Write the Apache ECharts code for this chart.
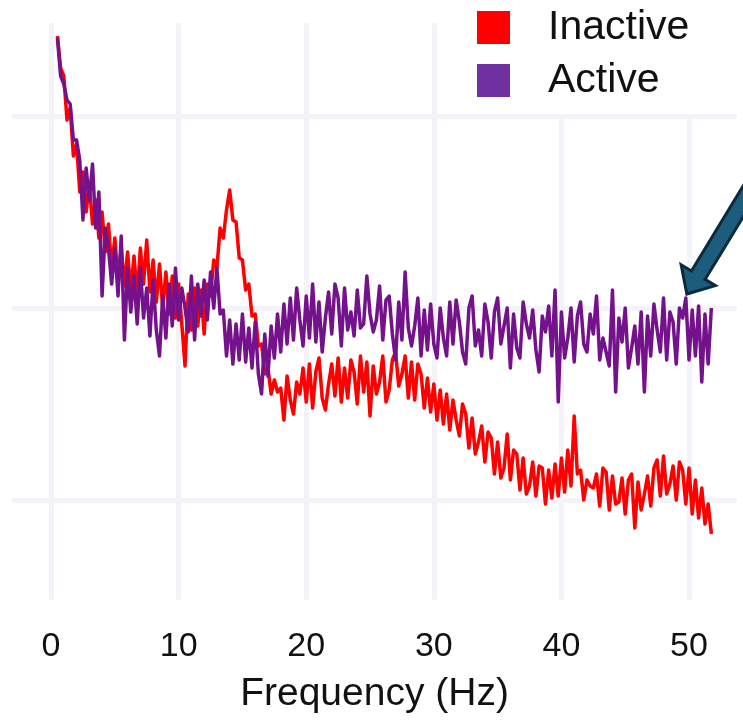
<!DOCTYPE html>
<html><head><meta charset="utf-8">
<script src="https://cdn.jsdelivr.net/npm/echarts@6/dist/echarts.min.js"></script>
<style>html,body{margin:0;padding:0;background:#fff}#c{width:743px;height:726px}</style>
</head><body><div id="c"></div>
<script>
// Sampling grid of the spectrum (Hz)
const freqStart = 0.5;
const freqStep = 0.25;

// Power (arbitrary units)
const inactive = [
282,266,262,240, 246,222,228,204, 214,194,208,188, 200,181,194,174,
188,166,181,160, 176,157,174,154, 172,152,176,158, 180,154,170,149,
168,146,164,143, 162,141,158,138, 117,153,135,156, 137,155,133,158,
152,170,166,186, 181,195,205,190, 189,171,170,155, 158,142,143,127,
128,113,116,103, 110,104,106,90, 112,100,93,109, 103,116,99,118,
96,114,121,101, 95,108,118,102, 121,99,116,101, 120,114,98,122,
104,119,92,117, 103,109,122,99, 105,120,124,107, 113,122,101,119,
100,118,113,96, 111,94,108,90, 105,88,103,85, 100,90,82,98,
93,76,91,73, 79,87,69,84, 81,63,79,61, 66,83,60,75,
73,55,71,53, 57,69,52,67, 66,48,65,51, 68,52,71,54,
75,57,92,63, 65,50,60,57, 56,63,47,66, 64,45,62,48,
49,61,43,60, 63,36,59,45, 53,62,47,66, 70,52,72,53,
58,67,50,69, 65,48,66,43, 60,41,56,38, 48,33
];
const active = [
281,262,258,250, 248,230,230,220, 190,216,200,218, 186,204,152,186,
176,158,176,152, 182,130,166,144, 162,138,166,141, 156,132,160,135,
122,152,131,158, 137,166,140,156, 146,134,162,130, 158,142,160,140,
164,146,166,143, 145,122,140,118, 138,120,143,119, 136,116,139,113,
103,133,112,137, 121,143,124,148, 128,151,130,156, 140,127,152,131,
158,129,149,124, 141,154,133,158, 151,127,156,135, 144,132,155,136,
138,162,143,134, 140,157,130,150, 152,133,120,149, 130,164,136,127,
137,151,122,145, 125,148,128,121, 146,131,122,149, 128,150,139,124,
118,146,152,127, 135,122,148,139, 121,144,151,128, 137,146,116,143,
126,121,149,138, 131,145,125,114, 142,134,147,122, 155,99,144,121,
131,146,119,142, 149,128,124,143, 133,152,120,131, 124,117,155,104,
141,129,146,116, 126,137,118,144, 104,142,122,148, 135,124,151,120,
144,139,118,146, 141,151,120,145, 122,147,109,143, 118,146
];
const xTicks = [0, 10, 20, 30, 40, 50];
const yGridValues = [50, 146, 242];
const seriesNames = ['Inactive', 'Active'];
const annotatedPoint = [49.75, 151];

const freqs = inactive.map((_, i) => freqStart + i * freqStep);
const FONT = '"Liberation Sans", Arial, sans-serif';
const gridLine = { show: true, lineStyle: { color: '#f3f3f9', width: 5 } };

const chart = echarts.init(document.getElementById('c'), null, { renderer: 'canvas' });
chart.setOption({
  animation: false,
  backgroundColor: '#ffffff',
  grid: { left: 12, right: 6, top: 23, bottom: 126 },
  xAxis: {
    type: 'value', min: -3.06, max: 53.76,
    axisLine: { show: false },
    axisTick: { show: false, customValues: xTicks },
    axisLabel: { customValues: xTicks, fontSize: 34, color: '#111', margin: 30, fontFamily: FONT },
    splitLine: gridLine,
    name: 'Frequency (Hz)', nameLocation: 'middle', nameGap: 75,
    nameTextStyle: { fontSize: 39, color: '#111', fontFamily: FONT }
  },
  yAxis: {
    type: 'value', min: 0, max: 288.5,
    axisLine: { show: false },
    axisTick: { show: false, customValues: yGridValues },
    axisLabel: { show: false, customValues: yGridValues },
    splitLine: gridLine
  },
  legend: {
    orient: 'vertical', left: 477, top: 7, padding: 0,
    itemWidth: 33, itemHeight: 33, itemGap: 12, icon: 'rect', z: 20,
    textStyle: { fontSize: 41, color: '#111', fontFamily: FONT, padding: [0, 0, 0, 33] },
    data: [
      { name: seriesNames[0], itemStyle: { color: '#ff0000' } },
      { name: seriesNames[1], itemStyle: { color: '#7030a0' } }
    ]
  },
  series: [
    { name: seriesNames[0], type: 'line', symbol: 'none', z: 2,
      data: freqs.map((f, i) => [f, inactive[i]]),
      lineStyle: { color: '#ff0000', width: 3.5, join: 'round' }, itemStyle: { color: '#ff0000' } },
    { name: seriesNames[1], type: 'line', symbol: 'none', z: 3,
      data: freqs.map((f, i) => [f, active[i]]),
      lineStyle: { color: '#74128b', width: 3.5, join: 'round' }, itemStyle: { color: '#74128b' } }
  ]
});

// Annotation arrow pointing at the ~50 Hz peak of the Active spectrum
const tip = chart.convertToPixel({ gridIndex: 0 }, annotatedPoint);
const tx = tip[0] + 1, ty = tip[1] - 4;
const rel = [[0,0],[-5.7,-29.2],[4.6,-23],[72,-134],[86,-126],[18.2,-14.6],[28.5,-8.4]];
chart.setOption({
  graphic: [
    { type: 'rect', z: 10, silent: true, shape: { x: 445, y: 0, width: 298, height: 114 }, style: { fill: '#ffffff' } },
    { type: 'polygon', z: 30, silent: true,
      shape: { points: rel.map(p => [tx + p[0], ty + p[1]]) },
      style: { fill: '#1c5d7e', stroke: '#0c2a3a', lineWidth: 3, lineJoin: 'miter' } }
  ]
});
</script>
</body></html>
